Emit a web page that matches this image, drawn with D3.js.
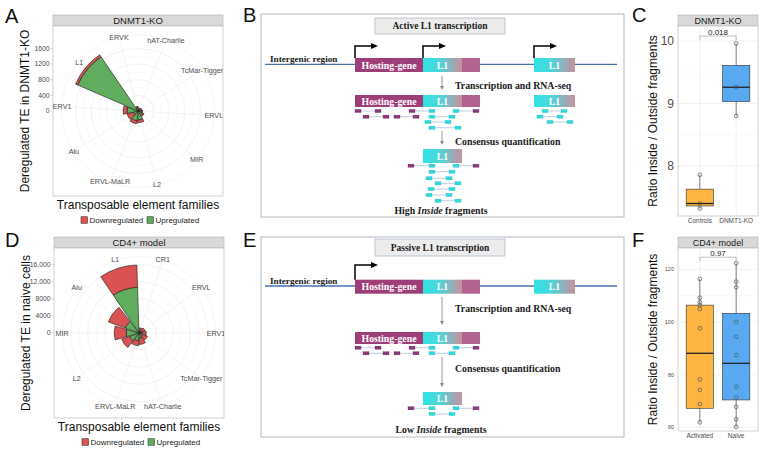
<!DOCTYPE html>
<html><head><meta charset="utf-8">
<script src="https://cdn.jsdelivr.net/npm/d3@7"></script>
<style>body{margin:0;background:#fff;}svg{display:block;}</style>
</head><body>
<svg id="fig" width="765" height="451"></svg>
<script>
// ================= DATA =================
// Panel A (DNMT1-KO) – clockwise family order
const familiesA = ["hAT-Charlie","TcMar-Tigger","ERVL","MIR","L2","ERVL-MaLR","Alu","ERV1","L1","ERVK"];
const upA   = [50, 60, 80, 120, 230, 250, 120, 280, 1680, 90];
const downA = [30, 40, 40, 50, 70, 80, 170, 100, 60, 30];
const ticksA = [0, 400, 800, 1200, 1600];
const tickLabelsA = ["0","400","800","1200","1600"];

// Panel D (CD4+ model)
const familiesD = ["CR1","ERVL","ERV1","TcMar-Tigger","hAT-Charlie","ERVL-MaLR","L2","MIR","Alu","L1"];
const upD   = [500, 600, 700, 900, 1200, 1800, 2300, 3000, 3400, 10700];
const downD = [700, 900, 1000, 1200, 1500, 1200, 2000, 2800, 4200, 5200];
const ticksD = [0, 4000, 8000, 12000, 16000];
const tickLabelsD = ["0","4000","8000","12,000","16,000"];
const regulation = ["Downregulated","Upregulated"];

// Panel C (ratio inside/outside, DNMT1-KO)
const groupsC = ["Controls","DNMT1-KO"];
const pointsControls = [7.86, 7.40, 7.32];
const pointsKO = [9.96, 9.26, 8.80];
const boxControls = [7.32, 7.36, 7.40, 7.63, 7.86]; // min,q1,median,q3,max
const boxKO = [8.80, 9.03, 9.26, 9.61, 9.96];
const ticksC = [8, 9, 10];
const pLabelC = "0.018";

// Panel F (CD4+ model)
const groupsF = ["Activated","Naive"];
const pointsActivated = [116.3,109.2,107.5,106.4,104.9,97.6,78.2,74.2,68.8,61.9];
const pointsNaive = [122.3,115.3,113.2,100.0,94.4,87.4,75.4,71.4,67.8,63.0,60.2];
const boxActivated = [61.9, 67.2, 88.1, 106.4, 116.3];
const boxNaive = [60.2, 70.4, 84.3, 103.3, 122.3];
const ticksF = [60, 80, 100, 120];
const pLabelF = "0.97";

// ================= STYLE =================
const SANS = "'Liberation Sans', Arial, Helvetica, sans-serif";
const SERIF = "'Liberation Serif', 'Times New Roman', serif";
const RED = "#db5252", GREEN = "#60ad60";
const ORANGE = "#fbb540", BLUE = "#58a9f2";
const HOST = "#9e3e78", TAIL = "#b2638f", CYAN = "#2fd9e0";
const GRAYTXT = "#4d4d4d";

const svg = d3.select("#fig");
svg.append("rect").attr("width",765).attr("height",451).attr("fill","#fff");
const defs = svg.append("defs");
const grad = defs.append("linearGradient").attr("id","l1grad");
grad.append("stop").attr("offset","0%").attr("stop-color","#2fe2e4");
grad.append("stop").attr("offset","42%").attr("stop-color","#4cd6da");
grad.append("stop").attr("offset","100%").attr("stop-color","#c98f9f");

// Panel letters
[["A",5,23],["B",243,22],["C",632,22],["D",5,247],["E",243,247],["F",632,247]].forEach(([t,x,y])=>{
  svg.append("text").attr("x",x).attr("y",y).attr("font-family",SANS).attr("font-size",20).attr("fill","#111").text(t);
});

function strip(x0,y0,w,h,label,fs){
  svg.append("rect").attr("x",x0).attr("y",y0).attr("width",w).attr("height",h)
    .attr("fill","#d9d9d9").attr("stroke","#b3b3b3").attr("stroke-width",0.6);
  svg.append("text").attr("x",x0+w/2).attr("y",y0+h/2).attr("dy","0.36em").attr("text-anchor","middle")
    .attr("font-family",SANS).attr("font-size",fs).attr("fill","#1a1a1a").text(label);
}

// ================= POLAR PANELS =================
function polar(cfg){
  const {x0,y0,w,h} = cfg;
  const cx = x0+w/2, cy = y0+h/2;
  strip(x0, y0-11, w, 11, cfg.strip, 9.5);
  svg.append("rect").attr("x",x0).attr("y",y0).attr("width",w).attr("height",h)
    .attr("fill","#fff").attr("stroke","#bdbdbd").attr("stroke-width",0.7);
  defs.append("clipPath").attr("id","clip"+cfg.id).append("rect")
    .attr("x",x0).attr("y",y0).attr("width",w).attr("height",h);
  const c = svg.append("g").attr("clip-path",`url(#clip${cfg.id})`)
    .append("g").attr("transform",`translate(${cx},${cy})`);

  const rows = cfg.families.map((f,i)=>({family:f, Upregulated:cfg.up[i], Downregulated:cfg.down[i]}));
  const series = d3.stack().keys(["Upregulated","Downregulated"])(rows);
  const maxTot = d3.max(rows, d=>d.Upregulated+d.Downregulated);
  const r = d3.scaleLinear().domain([0,maxTot]).range([0,0.4*Math.min(w,h)]);
  const rot = cfg.rot*Math.PI/180;
  const th = d3.scaleBand().domain(cfg.families).range([rot, rot+2*Math.PI]).paddingInner(0.1).paddingOuter(0.05);
  const mid = f => th(f)+th.bandwidth()/2;
  const rOuter = 0.45*Math.min(w,h);

  const minor = d3.pairs(cfg.ticks).map(([a,b])=>(a+b)/2);
  c.selectAll(null).data(minor).join("circle").attr("r",d=>r(d))
    .attr("fill","none").attr("stroke","#f3f3f3").attr("stroke-width",0.5);
  c.selectAll(null).data(cfg.ticks.slice(1)).join("circle").attr("r",d=>r(d))
    .attr("fill","none").attr("stroke","#e8e8e8").attr("stroke-width",0.6);
  c.append("circle").attr("r",rOuter).attr("fill","none").attr("stroke","#ececec").attr("stroke-width",0.6);
  c.selectAll(null).data(cfg.families).join("line")
    .attr("x1",0).attr("y1",0)
    .attr("x2",f=>rOuter*Math.sin(mid(f))).attr("y2",f=>-rOuter*Math.cos(mid(f)))
    .attr("stroke","#ececec").attr("stroke-width",0.6);

  const arc = d3.arc();
  series.forEach(s=>{
    c.selectAll(null).data(s).join("path")
      .attr("d", d=>arc({innerRadius:r(d[0]), outerRadius:r(d[1]),
                         startAngle:th(d.data.family), endAngle:th(d.data.family)+th.bandwidth()}))
      .attr("fill", s.key==="Upregulated"?GREEN:RED)
      .attr("stroke","#1a1a1a").attr("stroke-width",0.6).attr("stroke-linejoin","round");
  });

  c.selectAll(null).data(cfg.families).join("text")
    .attr("x",f=>cfg.labelR*Math.sin(mid(f))).attr("y",f=>-cfg.labelR*Math.cos(mid(f)))
    .attr("dy","0.35em").attr("text-anchor","middle")
    .attr("font-family",SANS).attr("font-size",7.2).attr("fill",GRAYTXT).text(f=>f);

  // radial axis on the left
  cfg.ticks.forEach((t,i)=>{
    svg.append("line").attr("x1",x0-2.5).attr("x2",x0).attr("y1",cy-r(t)).attr("y2",cy-r(t))
      .attr("stroke","#b3b3b3").attr("stroke-width",0.5);
    svg.append("text").attr("x",x0-3.5).attr("y",cy-r(t)).attr("dy","0.35em").attr("text-anchor","end")
      .attr("font-family",SANS).attr("font-size",6.8).attr("fill",GRAYTXT).text(cfg.tickLabels[i]);
  });
  // titles
  svg.append("text").attr("transform",`translate(${x0-24},${cy}) rotate(-90)`).attr("text-anchor","middle")
    .attr("font-family",SANS).attr("font-size",12).attr("fill","#111").text(cfg.ytitle);
  svg.append("text").attr("x",cx).attr("y",y0+h+13).attr("text-anchor","middle")
    .attr("font-family",SANS).attr("font-size",12).attr("fill","#111").text("Transposable element families");
  // legend
  const ly = y0+h+24;
  const lx = [x0+28, x0+94];
  regulation.forEach((k,i)=>{
    svg.append("rect").attr("x",lx[i]).attr("y",ly-3.25).attr("width",6.5).attr("height",6.5)
      .attr("fill", k==="Upregulated"?GREEN:RED).attr("stroke","#1a1a1a").attr("stroke-width",0.5);
    svg.append("text").attr("x",lx[i]+8.5).attr("y",ly).attr("dy","0.35em")
      .attr("font-family",SANS).attr("font-size",8).attr("fill","#1a1a1a").text(k);
  });
}

polar({id:"A", x0:53, y0:26, w:170, h:170, strip:"DNMT1-KO", families:familiesA, up:upA, down:downA,
       ticks:ticksA, tickLabels:tickLabelsA, rot:3.5, labelR:76, ytitle:"Deregulated TE in DNMT1-KO"});
polar({id:"D", x0:54, y0:248, w:170, h:170, strip:"CD4+ model", families:familiesD, up:upD, down:downD,
       ticks:ticksD, tickLabels:tickLabelsD, rot:0, labelR:77, ytitle:"Deregulated TE in naive cells"});

// ================= BOX PANELS =================
function boxPanel(cfg){
  const {x0,y0,w,h} = cfg;
  const y = d3.scaleLinear().domain(cfg.domain).range([y0+h, y0]);
  const x = d3.scalePoint().domain(cfg.groups).range([x0, x0+w]).padding(0.6);
  const bw = x.step()*0.75;
  strip(x0, y0-11, w, 11, cfg.strip, 9);
  svg.append("rect").attr("x",x0).attr("y",y0).attr("width",w).attr("height",h)
    .attr("fill","#fff").attr("stroke","#bdbdbd").attr("stroke-width",0.7);
  const minor = d3.pairs(cfg.ticks).map(([a,b])=>(a+b)/2);
  const g = svg.append("g");
  g.selectAll(null).data(minor).join("line").attr("x1",x0).attr("x2",x0+w)
    .attr("y1",d=>y(d)).attr("y2",d=>y(d)).attr("stroke","#f3f3f3").attr("stroke-width",0.5);
  g.selectAll(null).data(cfg.ticks).join("line").attr("x1",x0).attr("x2",x0+w)
    .attr("y1",d=>y(d)).attr("y2",d=>y(d)).attr("stroke","#e8e8e8").attr("stroke-width",0.6);
  g.selectAll(null).data(cfg.groups).join("line").attr("y1",y0).attr("y2",y0+h)
    .attr("x1",d=>x(d)).attr("x2",d=>x(d)).attr("stroke","#e8e8e8").attr("stroke-width",0.6);

  cfg.groups.forEach((grp,i)=>{
    const [lo,q1,md,q3,hi] = cfg.stats[i];
    const cx = x(grp);
    g.append("line").attr("x1",cx).attr("x2",cx).attr("y1",y(hi)).attr("y2",y(q3)).attr("stroke","#333").attr("stroke-width",0.6);
    g.append("line").attr("x1",cx).attr("x2",cx).attr("y1",y(q1)).attr("y2",y(lo)).attr("stroke","#333").attr("stroke-width",0.6);
    g.append("rect").attr("x",cx-bw/2).attr("width",bw).attr("y",y(q3)).attr("height",y(q1)-y(q3))
      .attr("fill",cfg.colors[i]).attr("stroke","#333").attr("stroke-width",0.6);
    g.append("line").attr("x1",cx-bw/2).attr("x2",cx+bw/2).attr("y1",y(md)).attr("y2",y(md))
      .attr("stroke","#222").attr("stroke-width",1.3);
    g.selectAll(null).data(cfg.points[i]).join("circle").attr("cx",cx).attr("cy",d=>y(d)).attr("r",1.9)
      .attr("fill","none").attr("stroke","#555").attr("stroke-width",0.7);
  });
  // comparison bracket
  const by = y(cfg.bracket), tip = 4;
  const xa = x(cfg.groups[0]), xb = x(cfg.groups[1]);
  g.append("path").attr("d",`M${xa},${by+tip}V${by}H${xb}V${by+tip}`)
    .attr("fill","none").attr("stroke","#999").attr("stroke-width",0.6);
  g.append("text").attr("x",(xa+xb)/2).attr("y",by-1.5).attr("text-anchor","middle")
    .attr("font-family",SANS).attr("font-size",8).attr("fill","#1a1a1a").text(cfg.pLabel);
  // axes
  cfg.ticks.forEach(t=>{
    svg.append("text").attr("x",x0-4).attr("y",y(t)).attr("dy","0.35em").attr("text-anchor","end")
      .attr("font-family",SANS).attr("font-size",cfg.tickSize).attr("fill",GRAYTXT).text(t);
  });
  cfg.groups.forEach(grp=>{
    svg.append("text").attr("x",x(grp)).attr("y",y0+h+7).attr("text-anchor","middle")
      .attr("font-family",SANS).attr("font-size",6.5).attr("fill",GRAYTXT).text(grp);
  });
  svg.append("text").attr("transform",`translate(${x0-21},${y0+h/2}) rotate(-90)`).attr("text-anchor","middle")
    .attr("font-family",SANS).attr("font-size",12).attr("fill","#111").text("Ratio Inside / Outside fragments");
}

boxPanel({x0:678, y0:26, w:80, h:190, strip:"DNMT1-KO", groups:groupsC, stats:[boxControls, boxKO],
  points:[pointsControls, pointsKO], colors:[ORANGE, BLUE], domain:[7.2, 10.24], ticks:ticksC,
  bracket:10.08, pLabel:pLabelC, tickSize:12});
boxPanel({x0:678, y0:248, w:80, h:183, strip:"CD4+ model", groups:groupsF, stats:[boxActivated, boxNaive],
  points:[pointsActivated, pointsNaive], colors:[ORANGE, BLUE], domain:[58.6, 128.09], ticks:ticksF,
  bracket:124.6, pLabel:pLabelF, tickSize:5.5});

// ================= SCHEMATICS (B, E) =================
// schematic units: x relative to the frame's left edge, y relative to its top edge
const locusFeatures = [
  {label:"Hosting-gene", kind:"host", start:94, end:162},
  {label:"L1", kind:"l1", start:162, end:201},
  {label:"", kind:"tail", start:201, end:219},
  {label:"L1", kind:"l1", start:273, end:314}
];
const hostReads = [ // [startA, startB, kindA, kindB] per row
  [[94,114,"h","h"],[148,168,"h","l"],[192,212,"l","h"]],
  [[102,122,"h","h"],[133,152,"h","h"],[168,188,"l","l"]],
  [[164,184,"l","l"]],
  [[168,194,"l","l"]]
];
const rightReads = [[[281,300,"l","l"]],[[276,296,"l","l"]],[[286,306,"l","l"]]];
const consensusReadsHigh = [
  [[147,168,"h","l"],[192,212,"l","h"]],
  [[168,188,"l","l"]],[[165,185,"l","l"]],[[174,194,"l","l"]],
  [[167,188,"l","l"]],[[165,185,"l","l"]],[[174,194,"l","l"]]
];
const consensusReadsLow = [
  [[147,168,"h","l"],[192,212,"l","h"]],
  [[168,188,"l","l"]]
];

function schematic(cfg){
  const X = d3.scaleLinear().domain([0,363]).range([261,624]);
  const Y = d3.scaleLinear().domain([0,cfg.height]).range([cfg.top, cfg.top+cfg.height]);
  const g = svg.append("g");
  g.append("rect").attr("x",X(0)).attr("y",Y(0)).attr("width",X(363)-X(0)).attr("height",Y(cfg.height)-Y(0))
    .attr("fill","#fff").attr("stroke","#a9b3bd").attr("stroke-width",0.9);
  // title box
  g.append("rect").attr("x",X(114)).attr("y",Y(cfg.titleY[0])).attr("width",X(244)-X(114))
    .attr("height",Y(cfg.titleY[1])-Y(cfg.titleY[0])).attr("fill","#ececec").attr("stroke","#b3bdcc").attr("stroke-width",0.8);
  g.append("text").attr("x",X(179)).attr("y",Y((cfg.titleY[0]+cfg.titleY[1])/2)).attr("dy","0.35em")
    .attr("text-anchor","middle").attr("font-family",SERIF).attr("font-weight","bold").attr("font-size",9.5)
    .attr("fill","#1a1a1a").text(cfg.title);
  // locus line
  g.append("line").attr("x1",X(4)).attr("x2",X(356)).attr("y1",Y(cfg.lineY)).attr("y2",Y(cfg.lineY))
    .attr("stroke","#4a72b0").attr("stroke-width",1.3);
  g.append("text").attr("x",X(9)).attr("y",Y(cfg.lineY-2)).attr("font-family",SERIF).attr("font-weight","bold")
    .attr("font-size",9.2).attr("fill","#1a1a1a").text("Intergenic region");

  function boxes(feats, y0, y1){
    feats.forEach(f=>{
      g.append("rect").attr("x",X(f.start)).attr("y",Y(y0)).attr("width",X(f.end)-X(f.start)).attr("height",Y(y1)-Y(y0))
        .attr("fill", f.kind==="host"?HOST:f.kind==="tail"?TAIL:"url(#l1grad)");
      if(f.label) g.append("text").attr("x",X((f.start+f.end)/2)).attr("y",Y((y0+y1)/2)).attr("dy","0.36em")
        .attr("text-anchor","middle").attr("font-family",SERIF).attr("font-weight","bold").attr("font-size",9.8)
        .attr("fill","#fff").text(f.label);
    });
  }
  boxes(locusFeatures, cfg.lineY-6.3, cfg.lineY+7.7);
  // promoter arrows
  cfg.promoters.forEach(p=>{
    g.append("path").attr("d",`M${X(p)},${Y(cfg.lineY-6.3)}V${Y(cfg.promTop)}H${X(p+17)}`)
      .attr("fill","none").attr("stroke","#000").attr("stroke-width",1.5);
    g.append("path").attr("d",`M${X(p+23)},${Y(cfg.promTop)}L${X(p+16)},${Y(cfg.promTop-3)}L${X(p+16)},${Y(cfg.promTop+3)}Z`)
      .attr("fill","#000");
  });
  function grayArrow(y0,y1){
    g.append("line").attr("x1",X(181)).attr("x2",X(181)).attr("y1",Y(y0)).attr("y2",Y(y1-3))
      .attr("stroke","#8c8c8c").attr("stroke-width",0.9);
    g.append("path").attr("d",`M${X(181)},${Y(y1)}L${X(179)},${Y(y1-4)}L${X(183)},${Y(y1-4)}Z`).attr("fill","#8c8c8c");
  }
  function stepLabel(t,yb){
    g.append("text").attr("x",X(194)).attr("y",Y(yb)).attr("font-family",SERIF).attr("font-weight","bold")
      .attr("font-size",9.8).attr("fill","#1a1a1a").text(t);
  }
  function reads(rows, ys){
    rows.forEach((row,i)=>{
      row.forEach(([a,b,ka,kb])=>{
        const yy = Y(ys[i]);
        g.append("line").attr("x1",X(a+6)).attr("x2",X(b)).attr("y1",yy).attr("y2",yy)
          .attr("stroke","#94aac2").attr("stroke-width",0.6);
        [[a,ka],[b,kb]].forEach(([s,k])=>{
          g.append("rect").attr("x",X(s)).attr("y",yy-1.6).attr("width",X(s+6)-X(s)).attr("height",3.2)
            .attr("fill",k==="h"?"#8a3a7a":CYAN).attr("stroke",k==="h"?"#6d2c61":"#20b8c4").attr("stroke-width",0.3);
        });
      });
    });
  }
  grayArrow(cfg.arrow1[0], cfg.arrow1[1]);
  stepLabel("Transcription and RNA-seq", cfg.label1);
  boxes(locusFeatures.filter((f,i)=>i<3 || cfg.rightTranscribed), cfg.row2[0], cfg.row2[1]);
  reads(cfg.hostReads, cfg.readY);
  if(cfg.rightTranscribed) reads(rightReads, cfg.readY);
  grayArrow(cfg.arrow2[0], cfg.arrow2[1]);
  stepLabel("Consensus quantification", cfg.label2);
  boxes([locusFeatures[1]], cfg.cons[0], cfg.cons[1]);
  reads(cfg.consReads, cfg.consY);
  const t = g.append("text").attr("x",X(180)).attr("y",Y(cfg.bottomY)).attr("text-anchor","middle")
    .attr("font-family",SERIF).attr("font-weight","bold").attr("font-size",9.8).attr("fill","#1a1a1a");
  t.append("tspan").text(cfg.bottom[0]+" ");
  t.append("tspan").attr("font-style","italic").text("Inside");
  t.append("tspan").text(" fragments");
}

schematic({top:14, height:203, title:"Active L1 transcription", titleY:[4,20], lineY:50.3,
  promoters:[94,162,273], promTop:32, arrow1:[62,76], label1:75, row2:[81,93],
  hostReads:hostReads, readY:[97,102.7,108,113.7], rightTranscribed:true,
  arrow2:[117,131], label2:131, cons:[135,149], consReads:consensusReadsHigh,
  consY:[151.7,157.7,164.3,169.3,175,181,186.7], bottomY:200, bottom:["High"]});
schematic({top:237, height:200, title:"Passive L1 transcription", titleY:[2,19], lineY:49,
  promoters:[94], promTop:28, arrow1:[60,88], label1:75, row2:[95,107],
  hostReads:hostReads.slice(0,2), readY:[110.7,116.3], rightTranscribed:false,
  arrow2:[120,150], label2:135, cons:[155,168], consReads:consensusReadsLow,
  consY:[171.3,177], bottomY:196, bottom:["Low"]});
</script>
</body></html>
